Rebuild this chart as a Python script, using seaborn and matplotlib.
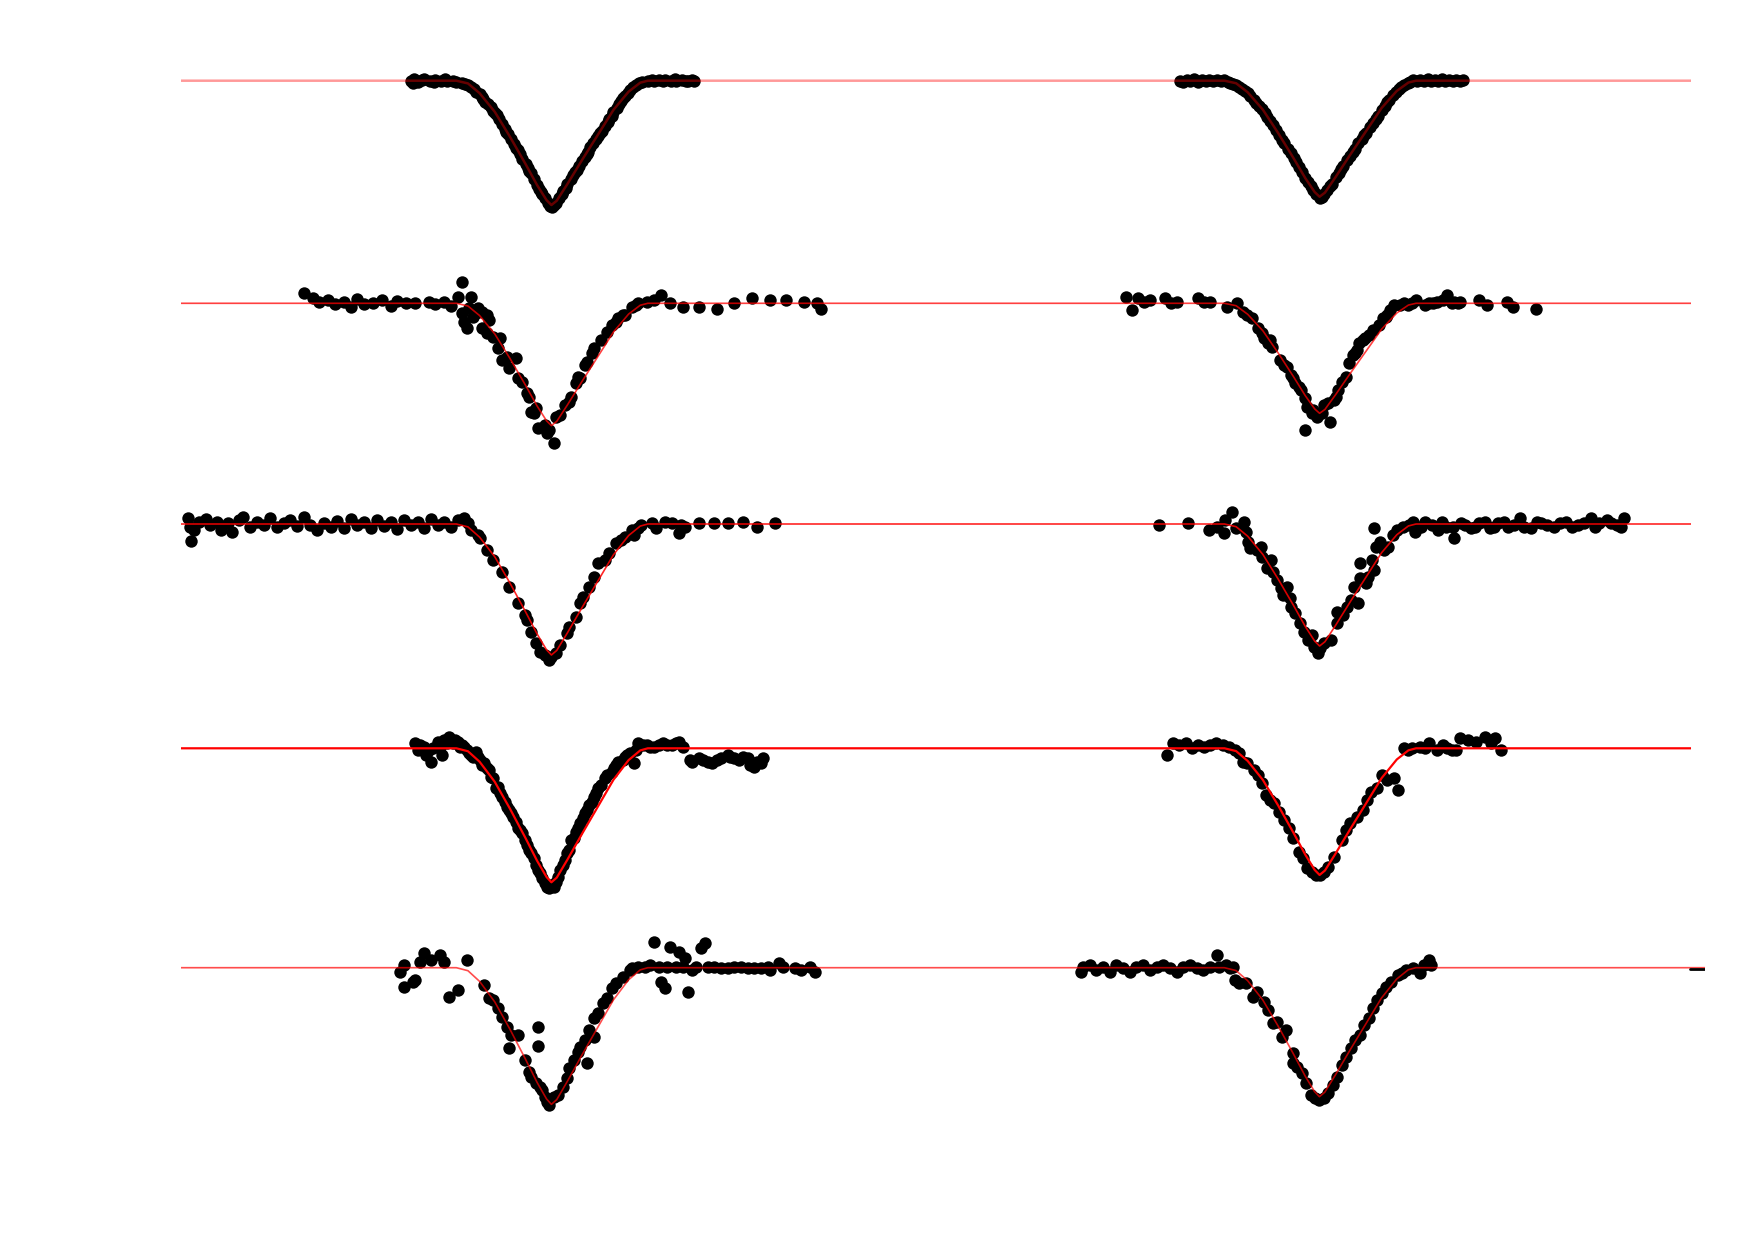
import numpy as np
import pandas as pd
import seaborn as sns
import matplotlib.pyplot as plt

# eclipse model shape: phase from mid-eclipse vs fraction of the depth
model_phase = [-0.0213, -0.0187, -0.0161, -0.0127, -0.0093, -0.0058, -0.0032, -0.0011, 0.0,
               0.0012, 0.0036, 0.0070, 0.0105, 0.0139, 0.0173, 0.0199, 0.0216]
model_frac = [0.0, 0.022, 0.10, 0.25, 0.45, 0.67, 0.84, 0.96, 1.0,
              0.965, 0.83, 0.63, 0.43, 0.235, 0.088, 0.016, 0.0]

# model depth (relative flux) per panel: rows top to bottom, left then right
depths = [0.0373, 0.0348, 0.0367, 0.0330, 0.0393, 0.0366, 0.0402, 0.0380, 0.0410, 0.0387]

# observed light curves, one pair of lists per panel
r1l_phase = [-0.0315, -0.0311, -0.0307, -0.0298, -0.0290, -0.0285, -0.0273, -0.0264, -0.0260, -0.0247,
             -0.0238, -0.0234, -0.0221, -0.0213, -0.0200, -0.0187, -0.0174, -0.0161, -0.0153, -0.0148,
             -0.0135, -0.0127, -0.0123, -0.0110, -0.0101, -0.0097, -0.0084, -0.0075, -0.0071, -0.0058,
             -0.0050, -0.0045, -0.0033, -0.0024, -0.0020, -0.0007, -0.0003, 0.0002, 0.0010, 0.0023,
             0.0032, 0.0036, 0.0049, 0.0057, 0.0062, 0.0075, 0.0083, 0.0087, 0.0100, 0.0109,
             0.0113, 0.0126, 0.0135, 0.0139, 0.0152, 0.0160, 0.0165, 0.0177, 0.0190, 0.0203,
             0.0216, 0.0225, 0.0229, 0.0242, 0.0250, 0.0255, 0.0267, 0.0276, 0.0280, 0.0293,
             0.0302, 0.0306, 0.0315, 0.0319,
             -0.0194, -0.0180, -0.0168, -0.0156, -0.0142, -0.0130, -0.0117, -0.0105, -0.0091, -0.0079,
             -0.0065, -0.0053, -0.0039, -0.0027, -0.0014, 0.0006, 0.0017, 0.0027, 0.0043, 0.0053,
             0.0069, 0.0079, 0.0094, 0.0105, 0.0120, 0.0130, 0.0146, 0.0156, 0.0171, 0.0183,
             0.0197]
r1l_flux = [1.0, 0.9994, 1.0004, 0.9997, 1.0002, 1.0004, 0.9998, 0.9996, 1.0002, 0.9998,
            1.0004, 1.0, 0.9998, 0.9997, 0.9994, 0.9986, 0.9974, 0.9960, 0.9944, 0.9937,
            0.9920, 0.9904, 0.9897, 0.9870, 0.9847, 0.9840, 0.9810, 0.9792, 0.9780, 0.9750,
            0.9730, 0.9722, 0.9687, 0.9667, 0.9660, 0.9634, 0.9624, 0.9622, 0.9634, 0.9660,
            0.9677, 0.9690, 0.9717, 0.9732, 0.9744, 0.9772, 0.9787, 0.9800, 0.9824, 0.9842,
            0.9850, 0.9877, 0.9894, 0.9907, 0.9930, 0.9947, 0.9954, 0.9972, 0.9987, 0.9996,
            1.0, 1.0002, 0.9998, 1.0002, 0.9998, 1.0002, 1.0, 1.0004, 0.9998, 1.0002,
            0.9998, 1.0, 1.0002, 1.0,
            0.9990, 0.9980, 0.9967, 0.9950, 0.9929, 0.9910, 0.9884, 0.9856, 0.9826, 0.9799,
            0.9766, 0.9738, 0.9706, 0.9675, 0.9648, 0.9627, 0.9647, 0.9669, 0.9704, 0.9725,
            0.9759, 0.9780, 0.9813, 0.9833, 0.9864, 0.9886, 0.9919, 0.9939, 0.9963, 0.9980,
            0.9992]

r1r_phase = [-0.0312, -0.0305, -0.0298, -0.0290, -0.0282, -0.0273, -0.0264, -0.0255, -0.0247, -0.0238,
             -0.0230, -0.0221, -0.0213, -0.0206, -0.0200, -0.0194, -0.0187, -0.0180, -0.0174, -0.0168,
             -0.0161, -0.0156, -0.0148, -0.0142, -0.0135, -0.0130, -0.0123, -0.0117, -0.0110, -0.0105,
             -0.0097, -0.0091, -0.0084, -0.0079, -0.0071, -0.0065, -0.0058, -0.0053, -0.0045, -0.0039,
             -0.0033, -0.0027, -0.0020, -0.0014, -0.0007, 0.0000, 0.0006, 0.0010, 0.0017, 0.0023,
             0.0027, 0.0036, 0.0043, 0.0049, 0.0053, 0.0062, 0.0069, 0.0075, 0.0079, 0.0087,
             0.0094, 0.0100, 0.0105, 0.0113, 0.0120, 0.0126, 0.0130, 0.0139, 0.0146, 0.0152,
             0.0156, 0.0165, 0.0171, 0.0177, 0.0183, 0.0190, 0.0197, 0.0203, 0.0210, 0.0218,
             0.0226, 0.0234, 0.0242, 0.0250, 0.0258, 0.0266, 0.0274, 0.0282, 0.0290, 0.0298,
             0.0306, 0.0314, 0.0322]
r1r_flux = [1.0000, 0.9995, 1.0003, 0.9998, 1.0004, 0.9997, 1.0002, 0.9998, 1.0003, 0.9998,
            1.0002, 0.9999, 1.0002, 0.9997, 0.9994, 0.9991, 0.9987, 0.9981, 0.9976, 0.9969,
            0.9963, 0.9953, 0.9941, 0.9934, 0.9925, 0.9916, 0.9904, 0.9892, 0.9879, 0.9866,
            0.9851, 0.9838, 0.9823, 0.9812, 0.9795, 0.9782, 0.9767, 0.9756, 0.9741, 0.9726,
            0.9708, 0.9697, 0.9683, 0.9672, 0.9659, 0.9649, 0.9652, 0.9659, 0.9671, 0.9683,
            0.9691, 0.9711, 0.9724, 0.9736, 0.9743, 0.9761, 0.9775, 0.9787, 0.9795, 0.9813,
            0.9826, 0.9836, 0.9844, 0.9860, 0.9873, 0.9885, 0.9894, 0.9913, 0.9924, 0.9935,
            0.9943, 0.9957, 0.9965, 0.9974, 0.9981, 0.9988, 0.9993, 0.9996, 1.0002, 0.9998,
            1.0003, 0.9999, 1.0004, 0.9998, 1.0003, 0.9999, 1.0004, 0.9998, 1.0002, 0.9998,
            1.0003, 0.9999, 1.0001]

r2l_phase = [-0.0555, -0.0535, -0.0520, -0.0500, -0.0485, -0.0465, -0.0450, -0.0435, -0.0420, -0.0400,
             -0.0380, -0.0360, -0.0345, -0.0325, -0.0305, -0.0275, -0.0260, -0.0240, -0.0225, -0.0210,
             -0.0200, -0.0200, -0.0195, -0.0190, -0.0185, -0.0180, -0.0175, -0.0170, -0.0165, -0.0155,
             -0.0145, -0.0155, -0.0145, -0.0140, -0.0130, -0.0115, -0.0120, -0.0110, -0.0100, -0.0095,
             -0.0080, -0.0075, -0.0065, -0.0055, -0.0050, -0.0045, -0.0040, -0.0035, -0.0030, -0.0015,
             -0.0010, -0.0005, 0.0005, 0.0010, 0.0020, 0.0030, 0.0040, 0.0045, 0.0055, 0.0060,
             0.0065, 0.0075, 0.0080, 0.0090, 0.0095, 0.0110, 0.0125, 0.0135, 0.0145, 0.0150,
             0.0160, 0.0165, 0.0180, 0.0190, 0.0195, 0.0215, 0.0230, 0.0245, 0.0265, 0.0295,
             0.0330, 0.0370, 0.0410, 0.0450, 0.0490, 0.0525, 0.0565, 0.0595, 0.0605]
r2l_flux = [1.0030, 1.0017, 1.0005, 1.0010, 0.9997, 1.0005, 0.9990, 1.0012, 0.9997, 1.0002,
            1.0010, 0.9992, 1.0007, 1.0002, 1.0000, 1.0005, 0.9998, 1.0005, 0.9992, 1.0020,
            1.0063, 0.9970, 0.9945, 0.9925, 0.9985, 1.0020, 0.9960, 0.9970, 0.9985, 0.9975,
            0.9965, 0.9925, 0.9910, 0.9950, 0.9900, 0.9895, 0.9865, 0.9830, 0.9840, 0.9805,
            0.9835, 0.9775, 0.9765, 0.9730, 0.9720, 0.9675, 0.9670, 0.9685, 0.9625, 0.9635,
            0.9612, 0.9620, 0.9582, 0.9660, 0.9665, 0.9695, 0.9705, 0.9720, 0.9760, 0.9780,
            0.9775, 0.9815, 0.9825, 0.9850, 0.9865, 0.9890, 0.9915, 0.9935, 0.9945, 0.9955,
            0.9965, 0.9965, 0.9990, 0.9995, 1.0000, 1.0005, 1.0010, 1.0025, 1.0000, 0.9990,
            0.9990, 0.9982, 1.0000, 1.0015, 1.0010, 1.0010, 1.0005, 1.0000, 0.9982]

r2r_phase = [-0.0434, -0.0420, -0.0407, -0.0393, -0.0379, -0.0347, -0.0333, -0.0319, -0.0273, -0.0259,
             -0.0245, -0.0208, -0.0185, -0.0171, -0.0162, -0.0152, -0.0139, -0.0129, -0.0125, -0.0116,
             -0.0111, -0.0106, -0.0088, -0.0079, -0.0074, -0.0065, -0.0060, -0.0055, -0.0046, -0.0042,
             -0.0032, -0.0028, -0.0032, -0.0018, -0.0014, -0.0005, 0.0005, 0.0009, 0.0018, 0.0023,
             0.0032, 0.0037, 0.0042, 0.0051, 0.0060, 0.0065, 0.0074, 0.0079, 0.0083, 0.0088,
             0.0097, 0.0102, 0.0111, 0.0120, 0.0134, 0.0143, 0.0148, 0.0152, 0.0157, 0.0166,
             0.0180, 0.0189, 0.0199, 0.0208, 0.0217, 0.0236, 0.0245, 0.0254, 0.0263, 0.0277,
             0.0286, 0.0296, 0.0300, 0.0310, 0.0314, 0.0356, 0.0374, 0.0420, 0.0434, 0.0485]
r2r_flux = [1.0020, 0.9980, 1.0015, 1.0005, 1.0010, 1.0015, 1.0000, 1.0005, 1.0015, 1.0005,
            1.0005, 0.9990, 1.0000, 0.9975, 0.9965, 0.9955, 0.9925, 0.9910, 0.9895, 0.9880,
            0.9890, 0.9870, 0.9830, 0.9815, 0.9810, 0.9785, 0.9775, 0.9760, 0.9750, 0.9740,
            0.9715, 0.9690, 0.9620, 0.9670, 0.9680, 0.9660, 0.9670, 0.9695, 0.9700, 0.9645,
            0.9710, 0.9720, 0.9740, 0.9765, 0.9780, 0.9820, 0.9845, 0.9850, 0.9860, 0.9880,
            0.9890, 0.9895, 0.9905, 0.9920, 0.9935, 0.9955, 0.9960, 0.9965, 0.9980, 0.9995,
            0.9995, 1.0000, 0.9995, 1.0000, 1.0010, 0.9995, 1.0000, 1.0000, 1.0005, 1.0010,
            1.0025, 1.0000, 1.0005, 1.0000, 1.0005, 1.0010, 0.9995, 1.0005, 0.9990, 0.9982]

r3l_phase = [-0.0815, -0.0810, -0.0807, -0.0800, -0.0790, -0.0775, -0.0765, -0.0750, -0.0740, -0.0725,
             -0.0715, -0.0700, -0.0690, -0.0675, -0.0660, -0.0645, -0.0630, -0.0615, -0.0600, -0.0585,
             -0.0570, -0.0555, -0.0540, -0.0525, -0.0510, -0.0495, -0.0480, -0.0465, -0.0450, -0.0435,
             -0.0420, -0.0405, -0.0390, -0.0375, -0.0360, -0.0345, -0.0330, -0.0315, -0.0300, -0.0285,
             -0.0270, -0.0255, -0.0240, -0.0225, -0.0210, -0.0195, -0.0188, -0.0180, -0.0165, -0.0160,
             -0.0145, -0.0130, -0.0110, -0.0095, -0.0075, -0.0060, -0.0055, -0.0045, -0.0035, -0.0025,
             -0.0015, -0.0005, 0.0000, 0.0010, 0.0020, 0.0035, 0.0040, 0.0055, 0.0065, 0.0070,
             0.0085, 0.0095, 0.0105, 0.0120, 0.0130, 0.0145, 0.0155, 0.0165, 0.0180, 0.0185,
             0.0195, 0.0200, 0.0225, 0.0235, 0.0255, 0.0270, 0.0285, 0.0290, 0.0300, 0.0330,
             0.0365, 0.0395, 0.0430, 0.0460, 0.0500]
r3l_flux = [1.0017, 0.9992, 0.9950, 0.9982, 1.0007, 1.0014, 0.9997, 1.0007, 0.9982, 1.0002,
            0.9977, 1.0012, 1.0022, 0.9992, 1.0007, 0.9997, 1.0017, 0.9992, 1.0004, 1.0012,
            0.9994, 1.0020, 0.9997, 0.9982, 1.0004, 0.9992, 1.0010, 0.9987, 1.0014, 0.9997,
            1.0007, 0.9987, 1.0012, 0.9994, 1.0007, 0.9984, 1.0012, 0.9997, 1.0007, 0.9987,
            1.0014, 0.9997, 1.0007, 0.9992, 1.0012, 1.0017, 1.0002, 0.9982, 0.9967, 0.9957,
            0.9922, 0.9892, 0.9857, 0.9812, 0.9762, 0.9727, 0.9712, 0.9677, 0.9642, 0.9617,
            0.9607, 0.9592, 0.9602, 0.9612, 0.9637, 0.9672, 0.9692, 0.9722, 0.9762, 0.9782,
            0.9812, 0.9842, 0.9882, 0.9892, 0.9912, 0.9942, 0.9952, 0.9962, 0.9982, 0.9967,
            0.9987, 0.9997, 1.0002, 0.9987, 1.0007, 1.0002, 0.9972, 0.9997, 0.9992, 1.0004,
            1.0002, 1.0004, 1.0007, 0.9992, 1.0002]

r3r_phase = [-0.0359, -0.0294, -0.0248, -0.0229, -0.0215, -0.0211, -0.0197, -0.0188, -0.0169, -0.0164,
             -0.0160, -0.0155, -0.0141, -0.0132, -0.0128, -0.0118, -0.0109, -0.0104, -0.0095, -0.0086,
             -0.0081, -0.0072, -0.0067, -0.0063, -0.0054, -0.0044, -0.0035, -0.0026, -0.0017, -0.0012,
             -0.0003, 0.0002, 0.0011, 0.0025, 0.0039, 0.0039, 0.0053, 0.0062, 0.0071, 0.0076,
             0.0085, 0.0090, 0.0090, 0.0103, 0.0108, 0.0117, 0.0122, 0.0122, 0.0127, 0.0136,
             0.0145, 0.0154, 0.0164, 0.0173, 0.0187, 0.0201, 0.0210, 0.0214, 0.0228, 0.0237,
             0.0251, 0.0265, 0.0274, 0.0284, 0.0298, 0.0302, 0.0316, 0.0325, 0.0339, 0.0348,
             0.0358, 0.0371, 0.0381, 0.0390, 0.0399, 0.0413, 0.0422, 0.0436, 0.0450, 0.0459,
             0.0473, 0.0487, 0.0496, 0.0510, 0.0524, 0.0538, 0.0552, 0.0565, 0.0579, 0.0593,
             0.0607, 0.0616, 0.0626, 0.0644, 0.0653, 0.0667, 0.0676, 0.0681]
r3r_flux = [0.9997, 1.0002, 0.9982, 0.9992, 0.9972, 1.0012, 1.0037, 0.9987, 1.0007, 0.9977,
            0.9947, 0.9927, 0.9922, 0.9932, 0.9902, 0.9867, 0.9892, 0.9857, 0.9832, 0.9807,
            0.9787, 0.9812, 0.9777, 0.9752, 0.9732, 0.9702, 0.9677, 0.9652, 0.9667, 0.9632,
            0.9612, 0.9627, 0.9642, 0.9652, 0.9702, 0.9737, 0.9727, 0.9752, 0.9772, 0.9812,
            0.9762, 0.9882, 0.9837, 0.9822, 0.9842, 0.9892, 0.9987, 0.9862, 0.9932, 0.9947,
            0.9922, 0.9932, 0.9967, 0.9982, 0.9992, 0.9997, 1.0007, 0.9977, 0.9992, 1.0007,
            0.9997, 0.9982, 1.0007, 0.9992, 0.9992, 0.9957, 1.0002, 0.9997, 0.9987, 0.9992,
            1.0002, 1.0007, 0.9987, 0.9992, 1.0002, 1.0007, 0.9992, 0.9997, 1.0017, 0.9992,
            0.9987, 1.0007, 1.0002, 0.9997, 0.9992, 1.0002, 1.0007, 0.9992, 0.9997, 1.0002,
            1.0017, 0.9992, 1.0002, 1.0012, 1.0002, 0.9997, 0.9992, 1.0017]

r4l_phase = [-0.0305, -0.0300, -0.0295, -0.0285, -0.0280, -0.0275, -0.0270, -0.0265, -0.0255, -0.0250,
             -0.0245, -0.0240, -0.0235, -0.0230, -0.0220, -0.0215, -0.0210, -0.0205, -0.0200, -0.0195,
             -0.0190, -0.0185, -0.0180, -0.0175, -0.0170, -0.0165, -0.0160, -0.0155, -0.0150, -0.0145,
             -0.0140, -0.0135, -0.0130, -0.0125, -0.0120, -0.0115, -0.0110, -0.0105, -0.0100, -0.0095,
             -0.0090, -0.0085, -0.0080, -0.0075, -0.0070, -0.0065, -0.0060, -0.0055, -0.0050, -0.0045,
             -0.0040, -0.0035, -0.0030, -0.0025, -0.0020, -0.0015, -0.0010, -0.0005, 0.0000, 0.0005,
             0.0010, 0.0015, 0.0020, 0.0025, 0.0030, 0.0035, 0.0040, 0.0045, 0.0050, 0.0055,
             0.0060, 0.0065, 0.0070, 0.0075, 0.0080, 0.0085, 0.0090, 0.0095, 0.0100, 0.0105,
             0.0110, 0.0120, 0.0125, 0.0135, 0.0140, 0.0145, 0.0150, 0.0160, 0.0165, 0.0170,
             0.0175, 0.0185, 0.0190, 0.0195, 0.0205, 0.0215, 0.0220, 0.0230, 0.0240, 0.0250,
             0.0260, 0.0270, 0.0280, 0.0285, 0.0295, 0.0310, 0.0315, 0.0330, 0.0340, 0.0350,
             0.0360, 0.0370, 0.0380, 0.0395, 0.0400, 0.0410, 0.0420, 0.0430, 0.0440, 0.0445,
             0.0455, 0.0460, 0.0470, 0.0475]
r4l_flux = [1.0015, 0.9995, 1.0010, 1.0005, 0.9980, 0.9995, 0.9960, 1.0000, 1.0020, 1.0005,
            0.9980, 1.0025, 1.0015, 1.0035, 1.0015, 1.0025, 1.0020, 1.0005, 1.0010, 1.0005,
            0.9995, 0.9985, 0.9980, 0.9975, 0.9990, 0.9975, 0.9965, 0.9950, 0.9955, 0.9940,
            0.9935, 0.9915, 0.9910, 0.9880, 0.9885, 0.9865, 0.9855, 0.9840, 0.9825, 0.9815,
            0.9805, 0.9795, 0.9780, 0.9760, 0.9755, 0.9745, 0.9725, 0.9710, 0.9695, 0.9685,
            0.9670, 0.9650, 0.9635, 0.9625, 0.9610, 0.9595, 0.9585, 0.9580, 0.9590, 0.9585,
            0.9600, 0.9615, 0.9635, 0.9650, 0.9665, 0.9685, 0.9695, 0.9725, 0.9730, 0.9750,
            0.9760, 0.9775, 0.9790, 0.9805, 0.9815, 0.9830, 0.9840, 0.9855, 0.9865, 0.9880,
            0.9890, 0.9910, 0.9920, 0.9930, 0.9940, 0.9950, 0.9960, 0.9965, 0.9975, 0.9980,
            0.9985, 0.9955, 0.9995, 1.0015, 1.0010, 1.0010, 1.0005, 1.0005, 1.0010, 1.0015,
            1.0010, 1.0010, 1.0015, 1.0020, 1.0005, 0.9965, 0.9960, 0.9970, 0.9965, 0.9960,
            0.9955, 0.9965, 0.9970, 0.9980, 0.9975, 0.9970, 0.9965, 0.9975, 0.9970, 0.9950,
            0.9945, 0.9960, 0.9955, 0.9970]

r4r_phase = [-0.0342, -0.0328, -0.0314, -0.0300, -0.0286, -0.0273, -0.0259, -0.0245, -0.0231, -0.0217,
             -0.0203, -0.0189, -0.0180, -0.0171, -0.0162, -0.0148, -0.0139, -0.0129, -0.0120, -0.0111,
             -0.0102, -0.0092, -0.0079, -0.0069, -0.0060, -0.0046, -0.0037, -0.0028, -0.0018, -0.0009,
             0.0000, 0.0009, 0.0018, 0.0032, 0.0051, 0.0060, 0.0069, 0.0083, 0.0097, 0.0106,
             0.0116, 0.0129, 0.0139, 0.0152, 0.0166, 0.0176, 0.0189, 0.0199, 0.0208, 0.0226,
             0.0236, 0.0245, 0.0263, 0.0277, 0.0286, 0.0296, 0.0305, 0.0314, 0.0333, 0.0351,
             0.0370, 0.0383, 0.0393, 0.0407]
r4r_flux = [0.9980, 1.0015, 1.0010, 1.0015, 1.0000, 1.0010, 1.0005, 1.0010, 1.0015, 1.0010,
            1.0005, 0.9995, 0.9985, 0.9960, 0.9955, 0.9935, 0.9920, 0.9895, 0.9860, 0.9845,
            0.9835, 0.9810, 0.9785, 0.9760, 0.9730, 0.9690, 0.9670, 0.9640, 0.9630, 0.9620,
            0.9620, 0.9630, 0.9645, 0.9675, 0.9725, 0.9755, 0.9775, 0.9795, 0.9815, 0.9845,
            0.9870, 0.9880, 0.9920, 0.9905, 0.9910, 0.9875, 1.0000, 0.9995, 1.0000, 1.0005,
            1.0000, 1.0015, 0.9995, 1.0010, 1.0000, 0.9995, 0.9995, 1.0030, 1.0025, 1.0020,
            1.0035, 1.0015, 1.0030, 0.9995]

r5l_phase = [-0.0340, -0.0330, -0.0330, -0.0310, -0.0305, -0.0295, -0.0285, -0.0270, -0.0250, -0.0240,
             -0.0230, -0.0210, -0.0190, -0.0150, -0.0140, -0.0130, -0.0120, -0.0110, -0.0100, -0.0095,
             -0.0090, -0.0075, -0.0060, -0.0050, -0.0045, -0.0035, -0.0030, -0.0030, -0.0025, -0.0020,
             -0.0015, -0.0010, -0.0005, 0.0005, 0.0015, 0.0025, 0.0035, 0.0040, 0.0050, 0.0060,
             0.0065, 0.0075, 0.0080, 0.0085, 0.0095, 0.0095, 0.0105, 0.0115, 0.0125, 0.0135,
             0.0145, 0.0160, 0.0175, 0.0180, 0.0195, 0.0210, 0.0220, 0.0230, 0.0240, 0.0245,
             0.0255, 0.0260, 0.0265, 0.0280, 0.0285, 0.0295, 0.0300, 0.0305, 0.0315, 0.0325,
             0.0335, 0.0345, 0.0350, 0.0365, 0.0380, 0.0395, 0.0410, 0.0425, 0.0440, 0.0455,
             0.0470, 0.0485, 0.0490, 0.0510, 0.0520, 0.0545, 0.0560, 0.0580, 0.0590]
r5l_flux = [0.9988, 1.0008, 0.9943, 0.9958, 0.9963, 1.0018, 1.0043, 1.0023, 1.0038, 1.0018,
            0.9913, 0.9933, 1.0023, 0.9948, 0.9908, 0.9903, 0.9878, 0.9853, 0.9823, 0.9758,
            0.9798, 0.9798, 0.9723, 0.9688, 0.9673, 0.9653, 0.9823, 0.9765, 0.9643, 0.9633,
            0.9613, 0.9598, 0.9588, 0.9613, 0.9618, 0.9643, 0.9668, 0.9698, 0.9723, 0.9748,
            0.9763, 0.9783, 0.9715, 0.9813, 0.9793, 0.9848, 0.9863, 0.9893, 0.9908, 0.9938,
            0.9953, 0.9973, 0.9993, 0.9998, 1.0003, 1.0003, 1.0008, 1.0078, 1.0003, 0.9958,
            0.9938, 1.0003, 1.0063, 1.0003, 1.0048, 1.0003, 1.0028, 0.9928, 0.9993, 1.0003,
            1.0058, 1.0073, 1.0003, 1.0003, 0.9998, 0.9998, 1.0003, 1.0003, 0.9998, 0.9998,
            0.9998, 1.0003, 0.9993, 1.0013, 1.0003, 0.9998, 0.9993, 1.0003, 0.9988]

r5r_phase = [-0.0535, -0.0530, -0.0515, -0.0500, -0.0485, -0.0470, -0.0455, -0.0440, -0.0425, -0.0410,
             -0.0395, -0.0380, -0.0365, -0.0350, -0.0335, -0.0320, -0.0305, -0.0290, -0.0275, -0.0260,
             -0.0245, -0.0230, -0.0225, -0.0210, -0.0200, -0.0193, -0.0190, -0.0180, -0.0165, -0.0150,
             -0.0140, -0.0125, -0.0115, -0.0105, -0.0095, -0.0085, -0.0075, -0.0060, -0.0060, -0.0050,
             -0.0040, -0.0030, -0.0020, -0.0010, 0.0000, 0.0010, 0.0020, 0.0030, 0.0040, 0.0050,
             0.0060, 0.0070, 0.0080, 0.0090, 0.0100, 0.0110, 0.0120, 0.0130, 0.0140, 0.0150,
             0.0160, 0.0175, 0.0185, 0.0195, 0.0210, 0.0225, 0.0235, 0.0245, 0.0250]
r5r_flux = [0.9988, 1.0003, 1.0008, 0.9993, 1.0003, 0.9988, 1.0008, 0.9998, 0.9988, 1.0003,
            1.0008, 0.9993, 1.0003, 1.0008, 0.9998, 0.9988, 1.0003, 1.0008, 0.9998, 0.9993,
            1.0003, 1.0038, 1.0003, 1.0008, 0.9998, 1.0003, 0.9963, 0.9953, 0.9953, 0.9913,
            0.9928, 0.9898, 0.9873, 0.9833, 0.9838, 0.9793, 0.9813, 0.9743, 0.9713, 0.9703,
            0.9683, 0.9653, 0.9618, 0.9608, 0.9603, 0.9608, 0.9623, 0.9648, 0.9673, 0.9708,
            0.9733, 0.9758, 0.9783, 0.9798, 0.9828, 0.9848, 0.9878, 0.9903, 0.9923, 0.9943,
            0.9958, 0.9978, 0.9983, 0.9993, 0.9998, 0.9983, 1.0008, 1.0023, 1.0008]

# short black segment at the far right of the last panel
tail_phase = [0.0830, 0.0864]
tail_flux = [0.9997, 0.9997]

panels = [
    (r1l_phase, r1l_flux), (r1r_phase, r1r_flux),
    (r2l_phase, r2l_flux), (r2r_phase, r2r_flux),
    (r3l_phase, r3l_flux), (r3r_phase, r3r_flux),
    (r4l_phase, r4l_flux), (r4r_phase, r4r_flux),
    (r5l_phase, r5l_flux), (r5r_phase, r5r_flux),
]

sns.set_style('white')
fig = plt.figure(figsize=(17.47, 12.38), dpi=100)

W, H = 1747.0, 1238.0
row_tops = [20.7, 243.3, 464.0, 688.3, 907.7]
row_h = 222.0
line_alpha = [0.4, 0.75, 0.85, 1.0, 0.7]
line_width = [1.8, 1.2, 1.2, 1.6, 1.2]

for i, (ph, fl) in enumerate(panels):
    row, col = divmod(i, 2)
    if col == 0:
        x0, x1 = 181.0, 937.0
        xlim = (-0.0830, 0.0864)
    else:
        x0, x1 = 937.0, 1691.0
        xlim = (-0.0857, 0.0832)
        if row == 4:
            x1 = 1705.0
            xlim = (-0.0857, 0.0864)
    ax = fig.add_axes([x0 / W, 1 - (row_tops[row] + row_h) / H, (x1 - x0) / W, row_h / H])

    df = pd.DataFrame({'phase': ph, 'flux': fl})
    sns.scatterplot(data=df, x='phase', y='flux', ax=ax, color='black', s=80,
                    linewidth=0, zorder=2)

    mph = [xlim[0]] + model_phase + [xlim[1]]
    mfr = [0.0] + model_frac + [0.0]
    mdf = pd.DataFrame({'phase': mph, 'flux': 1 - depths[i] * np.array(mfr)})
    sns.lineplot(data=mdf, x='phase', y='flux', ax=ax, color='red', estimator=None,
                 sort=False, lw=line_width[row], alpha=line_alpha[row], zorder=3)

    if i == 9:
        ax.plot(tail_phase, tail_flux, color='black', lw=2, zorder=4)

    ax.set_xlim(*xlim)
    ax.set_ylim(0.9514, 1.018)
    ax.axis('off')

fig.savefig('out.png', dpi=100)
